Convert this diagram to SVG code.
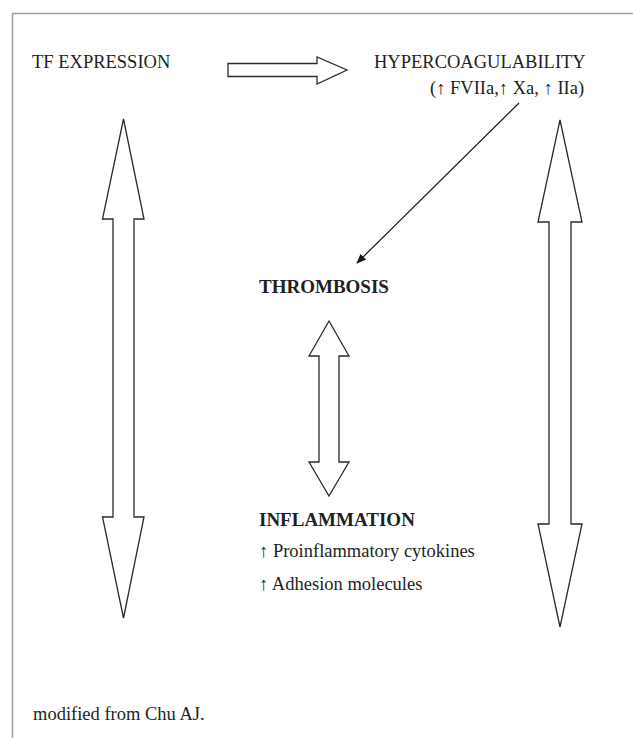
<svg xmlns="http://www.w3.org/2000/svg" width="633" height="738" viewBox="0 0 633 738">
<style>
.t{font-family:"Liberation Serif","Times New Roman",serif;font-size:18.5px;fill:#231f20}
.b{font-weight:bold;font-size:19px}
.ar{fill:#fff;stroke:#2a2a2a;stroke-width:1.3;stroke-linejoin:miter}
.fr{fill:none;stroke:#a0a0a0;stroke-width:1.5}
</style>
<defs>
<marker id="ah" viewBox="0 0 10 10" refX="9" refY="5" markerWidth="10" markerHeight="10" markerUnits="userSpaceOnUse" orient="auto">
<path d="M0,1 L10,5 L0,9 Z" fill="#1a1a1a"/>
</marker>
</defs>
<rect width="633" height="738" fill="#fff"/>
<path class="fr" d="M12.5,738 V13.5 H633"/>
<g id="tf-expression"><text class="t" x="32" y="68">TF EXPRESSION</text></g>
<g id="hypercoagulability">
<text class="t" x="374" y="68">HYPERCOAGULABILITY</text>
<text class="t" x="430" y="94">(↑ FVIIa,↑ Xa, ↑ IIa)</text>
</g>
<g id="thrombosis"><text class="t b" x="259" y="293">THROMBOSIS</text></g>
<g id="inflammation">
<text class="t b" x="259" y="526">INFLAMMATION</text>
<text class="t" x="259" y="557">↑ Proinflammatory cytokines</text>
<text class="t" x="259" y="590">↑ Adhesion molecules</text>
</g>
<g id="source"><text class="t" x="33" y="720">modified from Chu AJ.</text></g>
<g id="connectors">
<path class="ar" d="M228,63.5 H317 V57 L347,70 L317,84 V76.5 H228 Z"/>
<path class="ar" d="M123.5,119 L144,219 H134 V517 H144 L123.5,618 L102.5,517 H113 V219 H102.5 Z"/>
<path class="ar" d="M560,120 L582,222 H571 V524 H582 L560,627 L538,524 H549 V222 H538 Z"/>
<path class="ar" d="M329,321 L349,356 H339 V462 H349 L329,496 L309,462 H319 V356 H309 Z"/>
<line x1="519" y1="103" x2="357" y2="263" stroke="#1a1a1a" stroke-width="1.2" marker-end="url(#ah)"/>
</g>
</svg>
